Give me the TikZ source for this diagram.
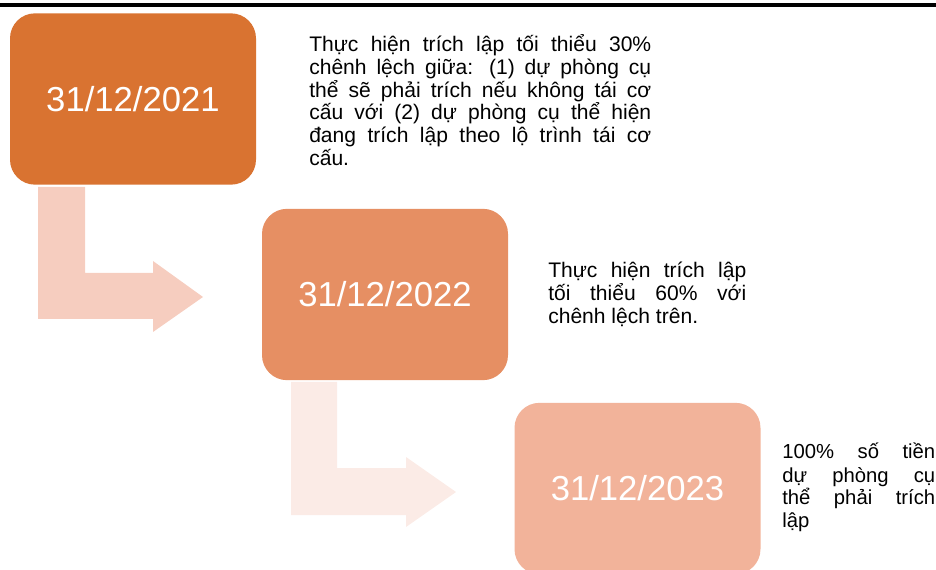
\documentclass[tikz,border=0pt]{standalone}
\usepackage{fontspec}
\setmainfont{Liberation Sans}
\definecolor{boxA}{HTML}{D97331}
\definecolor{boxB}{HTML}{E68F63}
\definecolor{boxC}{HTML}{F2B39A}
\definecolor{arrA}{HTML}{F6CDBF}
\definecolor{arrB}{HTML}{FBEBE6}
\newcommand{\jblock}[4]{\vtop{\hsize=#1\fontsize{#2}{#3}\selectfont\parindent=0pt\rightskip=0pt\hyphenpenalty=10000\tolerance=10000\emergencystretch=0pt #4\par}}
\begin{document}
\begin{tikzpicture}[x=0.75pt,y=-0.75pt,
  datebox/.style={rounded corners=18.75pt, minimum width=184.5pt, minimum height=128.5pt, inner sep=0pt, text=white, font=\fontsize{26}{30}\selectfont},
  desc/.style={anchor=base west, inner sep=0pt, text=black}]
\useasboundingbox (0,0) rectangle (936,570);
\clip (0,0) rectangle (936,570);
\fill[black] (0,3) rectangle (936,7);
% bent arrows
\fill[arrA] (38,187) -- (85,187) -- (85,273) -- (153,273) -- (153,261) -- (203,297) -- (153,332) -- (153,319) -- (38,319) -- cycle;
\fill[arrB] (291,382) -- (337,382) -- (337,468) -- (406,468) -- (406,457) -- (456,492) -- (406,527) -- (406,515) -- (291,515) -- cycle;
% boxes
\node[datebox, fill=boxA] (b1) at (133,99) {31/12/2021};
\node[datebox, fill=boxB] (b2) at (385,294.5) {31/12/2022};
\node[datebox, fill=boxC] (b3) at (637.5,488.5) {31/12/2023};
% descriptions
\node[desc] (t1) at (309,52) {\jblock{256.5pt}{15.8}{17}{Thực hiện trích lập tối thiểu 30\%\linebreak chênh lệch giữa: (1) dự phòng cụ\linebreak thể sẽ phải trích nếu không tái cơ\linebreak cấu với (2) dự phòng cụ thể hiện\linebreak đang trích lập theo lộ trình tái cơ\linebreak cấu.}};
\node[desc] (t2) at (548,278) {\jblock{148.5pt}{15.8}{16.9}{Thực hiện trích lập\linebreak tối thiểu 60\% với\linebreak chênh lệch trên.}};
\node[desc] (t3) at (782,459) {\jblock{114.75pt}{15.2}{17.25}{100\% số tiền\linebreak dự phòng cụ\linebreak thể phải trích\linebreak lập}};
\end{tikzpicture}
\end{document}
